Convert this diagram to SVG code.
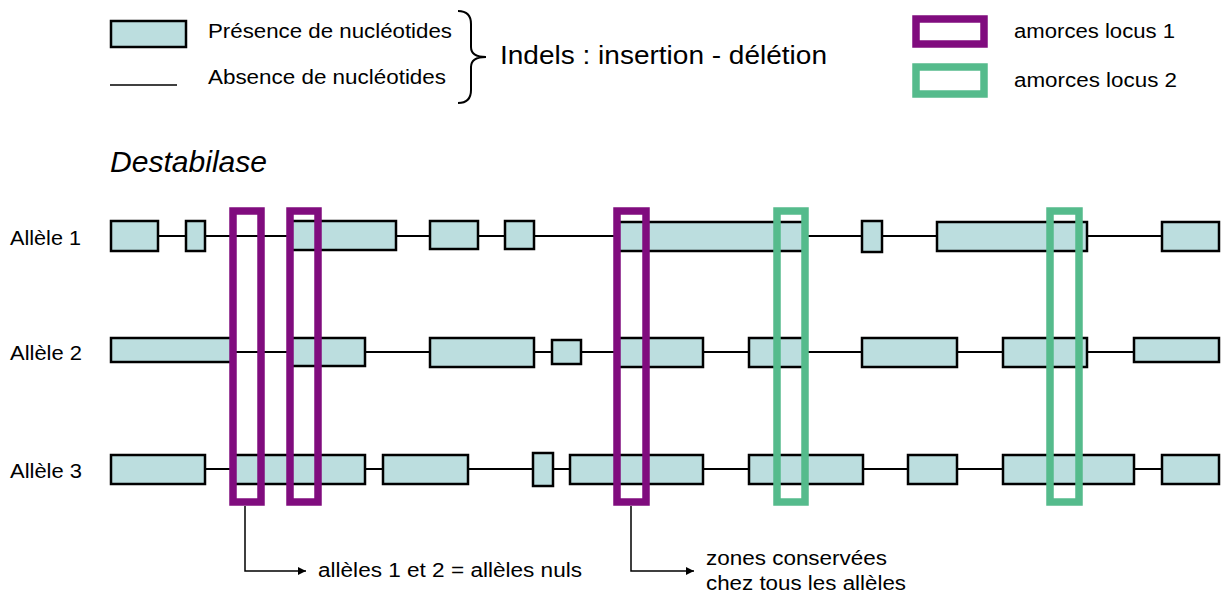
<svg xmlns="http://www.w3.org/2000/svg" width="1222" height="596" viewBox="0 0 1222 596">
<style>
.t{font-family:"Liberation Sans",Arial,sans-serif;fill:#000}
.box{fill:#bcdedf;stroke:#000;stroke-width:2.5}
.ln{stroke:#000;stroke-width:2;fill:none}
.p1{fill:none;stroke:#800c7e;stroke-width:7.5}
.p2{fill:none;stroke:#55bb8c;stroke-width:7.5}
.cn{stroke:#000;stroke-width:1.5;fill:none}
</style>
<defs>
<marker id="ar" viewBox="0 0 10 10" refX="10" refY="5" markerWidth="8" markerHeight="8" markerUnits="userSpaceOnUse" orient="auto">
<path d="M0,0 L10,5 L0,10 Z" fill="#000"/>
</marker>
</defs>
<rect width="1222" height="596" fill="#fff"/>

<g id="legend">
<rect class="box" x="111" y="21" width="75" height="26" stroke-width="2"/>
<line x1="110" y1="85" x2="177" y2="85" stroke="#000" stroke-width="1.5"/>
<text class="t" x="208" y="38" font-size="21" textLength="244" lengthAdjust="spacingAndGlyphs">Présence de nucléotides</text>
<text class="t" x="208" y="84" font-size="21" textLength="238" lengthAdjust="spacingAndGlyphs">Absence de nucléotides</text>
<path d="M458,11 C466,11 471,15 471,24 L471,47 C471,53 476,57 486,57 C476,57 471,61 471,67 L471,90 C471,99 466,103 458,103" fill="none" stroke="#000" stroke-width="2"/>
<text class="t" x="500" y="64" font-size="25" textLength="327" lengthAdjust="spacingAndGlyphs">Indels : insertion - délétion</text>
<rect class="p1" x="916" y="19" width="68" height="25"/>
<rect class="p2" x="916" y="67" width="68" height="27"/>
<text class="t" x="1014" y="38" font-size="20" textLength="161" lengthAdjust="spacingAndGlyphs">amorces locus 1</text>
<text class="t" x="1014" y="87" font-size="20" textLength="163" lengthAdjust="spacingAndGlyphs">amorces locus 2</text>
</g>

<text class="t" x="110" y="172" font-size="29" font-style="italic" textLength="157" lengthAdjust="spacingAndGlyphs">Destabilase</text>

<g id="connectors">
<line class="ln" x1="158" y1="236" x2="1162" y2="236"/>
<line class="ln" x1="232" y1="352" x2="1134" y2="352"/>
<line class="ln" x1="205" y1="469" x2="1162" y2="469"/>
<path class="cn" d="M245,506 L245,571 L306,571" marker-end="url(#ar)"/>
<path class="cn" d="M631,506 L631,571 L694,571" marker-end="url(#ar)"/>
</g>

<g id="allele1">
<text class="t" x="10" y="245" font-size="21" textLength="71" lengthAdjust="spacingAndGlyphs">Allèle 1</text>
<rect class="box" x="111" y="221" width="47" height="30"/>
<rect class="box" x="186" y="221" width="19" height="30"/>
<rect class="box" x="291" y="221" width="105" height="29"/>
<rect class="box" x="430" y="221" width="48" height="28"/>
<rect class="box" x="505" y="221" width="29" height="28"/>
<rect class="box" x="617" y="222" width="188" height="29"/>
<rect class="box" x="862" y="221" width="20" height="31"/>
<rect class="box" x="937" y="222" width="150" height="29"/>
<rect class="box" x="1162" y="222" width="57" height="29"/>
</g>

<g id="allele2">
<text class="t" x="10" y="360" font-size="21" textLength="72" lengthAdjust="spacingAndGlyphs">Allèle 2</text>
<rect class="box" x="111" y="338" width="121" height="24"/>
<rect class="box" x="291" y="338" width="74" height="28"/>
<rect class="box" x="430" y="338" width="104" height="29"/>
<rect class="box" x="552" y="340" width="29" height="24"/>
<rect class="box" x="617" y="338" width="86" height="29"/>
<rect class="box" x="749" y="338" width="56" height="29"/>
<rect class="box" x="862" y="338" width="95" height="29"/>
<rect class="box" x="1003" y="338" width="84" height="29"/>
<rect class="box" x="1134" y="338" width="85" height="24"/>
</g>

<g id="allele3">
<text class="t" x="10" y="478" font-size="21" textLength="72" lengthAdjust="spacingAndGlyphs">Allèle 3</text>
<rect class="box" x="111" y="455" width="94" height="29"/>
<rect class="box" x="234" y="455" width="131" height="29"/>
<rect class="box" x="383" y="455" width="85" height="29"/>
<rect class="box" x="533" y="453" width="20" height="33"/>
<rect class="box" x="570" y="455" width="133" height="29"/>
<rect class="box" x="749" y="455" width="114" height="29"/>
<rect class="box" x="908" y="455" width="49" height="29"/>
<rect class="box" x="1003" y="455" width="131" height="29"/>
<rect class="box" x="1162" y="455" width="57" height="29"/>
</g>

<g id="primers-locus1">
<rect class="p1" x="233" y="211" width="28" height="291"/>
<rect class="p1" x="290" y="211" width="28" height="291"/>
<rect class="p1" x="617" y="211" width="29" height="291"/>
</g>
<g id="primers-locus2">
<rect class="p2" x="777" y="211" width="28" height="291"/>
<rect class="p2" x="1050" y="211" width="29" height="291"/>
</g>

<g id="notes">
<text class="t" x="318" y="577" font-size="20" textLength="264" lengthAdjust="spacingAndGlyphs">allèles 1 et 2 = allèles nuls</text>
<text class="t" x="706" y="565" font-size="20" textLength="181" lengthAdjust="spacingAndGlyphs">zones conservées</text>
<text class="t" x="706" y="590" font-size="20" textLength="200" lengthAdjust="spacingAndGlyphs">chez tous les allèles</text>
</g>
</svg>
